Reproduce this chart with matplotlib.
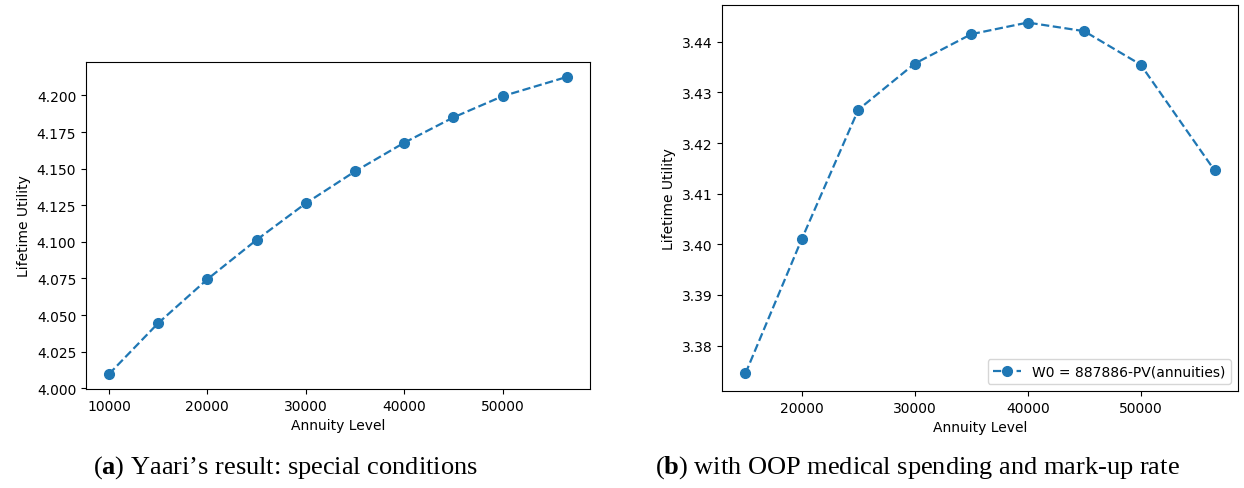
import matplotlib
matplotlib.use("Agg")
import matplotlib.pyplot as plt

plt.rcParams['mathtext.fontset'] = 'custom'
plt.rcParams['mathtext.rm'] = 'Liberation Serif'
plt.rcParams['mathtext.bf'] = 'Liberation Serif:bold'

# annuity levels and lifetime utility, Yaari case
annuity_a = [10000, 15000, 20000, 25000, 30000, 35000, 40000, 45000, 50000, 56550]
utility_a = [4.0096, 4.0444, 4.0744, 4.1013, 4.1263, 4.1481, 4.1677, 4.1850, 4.1995, 4.2127]

# with OOP medical spending and mark-up rate
annuity_b = [15000, 20000, 25000, 30000, 35000, 40000, 45000, 50000, 56550]
utility_b = [3.3745, 3.4011, 3.4266, 3.4357, 3.4415, 3.4438, 3.4421, 3.4355, 3.4146]
label_b = 'W0 = 887886-PV(annuities)'

caption_a = r"$(\mathbf{a})$ Yaari’s result: special conditions"
caption_b = r"$(\mathbf{b})$ with OOP medical spending and mark-up rate"

fig = plt.figure(figsize=(12.44, 4.89), dpi=100)

ax1 = fig.add_axes([86/1244, 1 - 390/489, (590-86)/1244, (390-63)/489])
ax1.plot(annuity_a, utility_a, 'o--', color='#1f77b4', ms=7, lw=1.6)
ax1.set_xlabel('Annuity Level')
ax1.set_ylabel('Lifetime Utility')

ax2 = fig.add_axes([722/1244, 1 - 392/489, (1238-722)/1244, (392-6)/489])
ax2.plot(annuity_b, utility_b, 'o--', color='#1f77b4', ms=7, lw=1.6, label=label_b)
ax2.set_xlabel('Annuity Level')
ax2.set_ylabel('Lifetime Utility')
ax2.legend(loc='lower right')

fig.text(93/1244, 1 - 468/489, caption_a, family='Liberation Serif', fontsize=19, va='center')
fig.text(655/1244, 1 - 468/489, caption_b, family='Liberation Serif', fontsize=19, va='center')

fig.savefig('out.png', dpi=100)
